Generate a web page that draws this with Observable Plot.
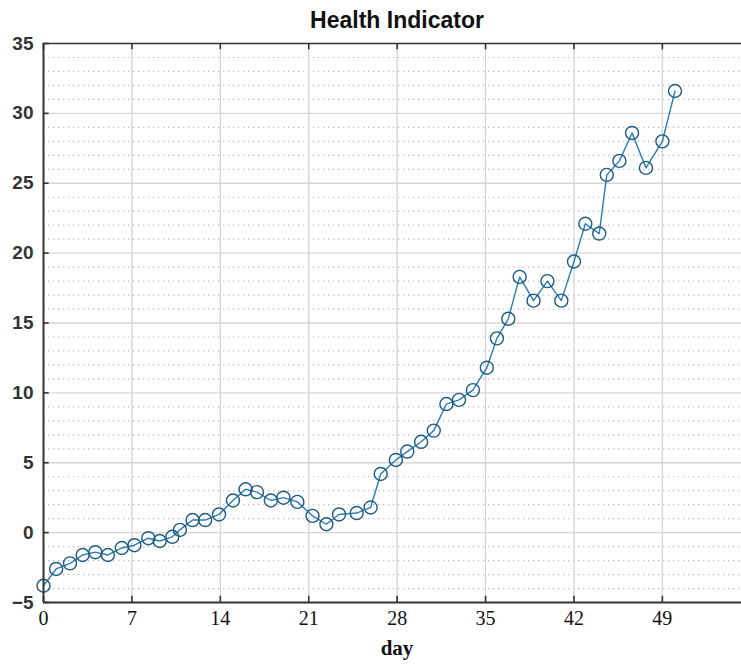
<!DOCTYPE html>
<html>
<head>
<meta charset="utf-8">
<script src="https://cdn.jsdelivr.net/npm/d3@7"></script>
<script src="https://cdn.jsdelivr.net/npm/@observablehq/plot@0.6"></script>
<style>
  html, body { margin: 0; padding: 0; background: #fff; }
  #wrap { position: relative; width: 741px; height: 664px; overflow: hidden; }
  #title {
    position: absolute; left: 0; width: 794px; top: 7px; text-align: center;
    font: bold 23px "Liberation Sans", Arial, sans-serif; color: #111;
  }
  #xlabel {
    position: absolute; left: 0; width: 794px; top: 636px; text-align: center;
    font: bold 21px "Liberation Serif", "Times New Roman", serif; color: #111;
  }
</style>
</head>
<body>
<div id="wrap">
  <div id="chart"></div>
  <div id="title">Health Indicator</div>
  <div id="xlabel">day</div>
</div>
<script>
// Daily health indicator readings
const days = [0, 1.0, 2.1, 3.1, 4.1, 5.1, 6.2, 7.2, 8.3, 9.2,
  10.2, 10.8, 11.8, 12.8, 13.9, 15.0, 16.0, 16.9, 18.0, 19.0,
  20.1, 21.3, 22.4, 23.4, 24.8, 25.9, 26.7, 27.9, 28.8, 29.9,
  30.9, 31.9, 32.9, 34.0, 35.1, 35.9, 36.8, 37.7, 38.8, 39.9,
  41.0, 42.0, 42.9, 44.0, 44.6, 45.6, 46.6, 47.7, 49.0, 50.0];
const health = [-3.8, -2.6, -2.2, -1.6, -1.4, -1.6, -1.1, -0.9, -0.4, -0.6,
  -0.3, 0.2, 0.9, 0.9, 1.3, 2.3, 3.1, 2.9, 2.3, 2.5,
  2.2, 1.2, 0.6, 1.3, 1.4, 1.8, 4.2, 5.2, 5.8, 6.5,
  7.3, 9.2, 9.5, 10.2, 11.8, 13.9, 15.3, 18.3, 16.6, 18.0,
  16.6, 19.4, 22.1, 21.4, 25.6, 26.6, 28.6, 26.1, 28.0, 31.6];

const xTicks = [0, 7, 14, 21, 28, 35, 42, 49];
const yTicks = [-5, 0, 5, 10, 15, 20, 25, 30, 35];
const yMinor = d3.range(-4, 35).filter(v => v % 5 !== 0);

const data = days.map((d, i) => ({day: d, value: health[i]}));

const axisColor = "#333";
const lineColor = "#2a7db5";
const markerColor = "#1e5b82";

const chart = Plot.plot({
  width: 741,
  height: 664,
  marginLeft: 43,
  marginTop: 43,
  marginBottom: 62,
  marginRight: 0,
  x: {domain: [0, 56], range: [43, 43 + 56 * 12.63]},
  y: {domain: [-5, 35], range: [602, 43]},
  marks: [
    // minor dotted horizontal grid
    Plot.ruleY(yMinor, {stroke: "#bdbdbd", strokeWidth: 1.2, strokeDasharray: "1.3,3.7"}),
    // major grid
    Plot.ruleY(yTicks.filter(v => v > -5 && v < 35), {stroke: "#d6d6d6", strokeWidth: 1.4}),
    Plot.ruleX(xTicks.filter(v => v > 0), {stroke: "#d6d6d6", strokeWidth: 1.4}),
    // series
    Plot.line(data, {x: "day", y: "value", stroke: lineColor, strokeWidth: 1.4}),
    Plot.dot(data, {x: "day", y: "value", r: 6.5, stroke: markerColor, strokeWidth: 1.4, fill: "none"}),
    // axes box and inward ticks
    Plot.ruleY([35], {stroke: axisColor, strokeWidth: 1.6}),
    Plot.ruleY([-5], {stroke: axisColor, strokeWidth: 2}),
    Plot.ruleX([0], {stroke: axisColor, strokeWidth: 2}),
    Plot.ruleX(xTicks, {y1: -5, y2: -4.55, stroke: axisColor, strokeWidth: 1.6}),
    Plot.ruleX(xTicks, {y1: 35, y2: 34.55, stroke: axisColor, strokeWidth: 1.6}),
    Plot.ruleY(yTicks, {x1: 0, x2: 0.45, stroke: axisColor, strokeWidth: 1.6}),
    // tick labels
    Plot.axisY(yTicks, {
      tickSize: 0, tickPadding: 10, label: null,
      fontSize: 19, fontWeight: "bold", fill: "#333",
      fontFamily: "Liberation Sans, Arial, sans-serif"
    }),
    Plot.axisX(xTicks, {
      tickSize: 0, tickPadding: 8, label: null,
      fontSize: 20, fill: "#111",
      fontFamily: "Liberation Serif, Times New Roman, serif"
    })
  ]
});
chart.style.fontFamily = "Liberation Sans, Arial, sans-serif";
document.getElementById("chart").appendChild(chart);
</script>
</body>
</html>
